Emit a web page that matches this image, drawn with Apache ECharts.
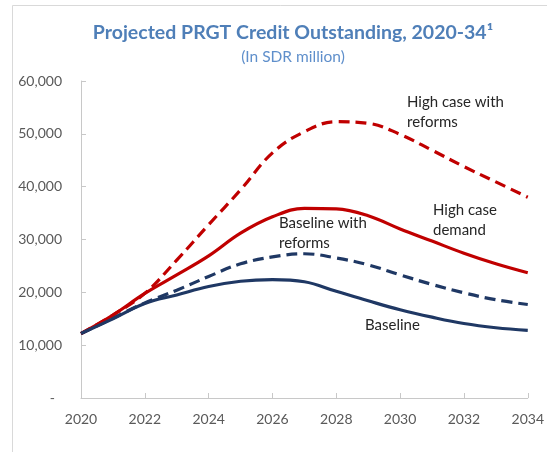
<!DOCTYPE html>
<html>
<head>
<meta charset="utf-8">
<script src="https://cdn.jsdelivr.net/npm/echarts@6/dist/echarts.min.js"></script>
<style>
html,body{margin:0;padding:0;background:#fff;}
#c{width:547px;height:452px;}
</style>
</head>
<body>
<div id="c"></div>
<script>
const years = [2020,2021,2022,2023,2024,2025,2026,2027,2028,2029,2030,2031,2032,2033,2034];
const baseline = [12200,15000,17900,19500,21100,22100,22400,22000,20200,18400,16700,15300,14100,13300,12800];
const baselineReforms = [12200,15100,18000,20400,23000,25400,26700,27300,26500,25200,23300,21500,19900,18600,17700];
const highDemand = [12200,15700,19800,23300,26900,31200,34300,35900,35800,34500,32000,29700,27400,25400,23700];
const highReforms = [12200,15700,19800,26100,32800,39400,46400,50400,52300,52000,49900,46900,43800,40900,38000];
const yTicks = [0,10000,20000,30000,40000,50000,60000];
const titleText = 'Projected PRGT Credit Outstanding, 2020-34\u00B9';
const subtitleText = '(In SDR million)';

const FONT = 'Lato, "Open Sans", sans-serif';
const RED = '#c00000', NAVY = '#1f3864';
const pair = arr => years.map((y,i)=>[y, arr[i]]);

const chart = echarts.init(document.getElementById('c'), null, {renderer:'canvas'});
function mk(name, data, color, dashed){
  return {
    name, type:'line', data: pair(data), smooth: 0.4, symbol:'none',
    lineStyle:{color, width:3.2, type: dashed ? [11,6] : 'solid', cap:'butt'},
    z: dashed ? 3 : 4
  };
}
chart.setOption({
  animation:false,
  backgroundColor:'#fff',
  grid:{left:81, right:19, top:81, bottom:54},
  xAxis:{
    type:'value', min:2020, max:2034, interval:2,
    axisLine:{lineStyle:{color:'#c8c8c8', width:1}},
    axisTick:{inside:true, length:5, lineStyle:{color:'#c8c8c8'}},
    axisLabel:{formatter:v=>String(v), color:'#595959', fontFamily:FONT, fontSize:14, margin:14},
    splitLine:{show:false}
  },
  yAxis:{
    type:'value', min:0, max:60000, interval:10000,
    axisLine:{show:true, lineStyle:{color:'#c8c8c8', width:1}},
    axisTick:{show:true, inside:true, length:5, lineStyle:{color:'#c8c8c8'}},
    axisLabel:{formatter:v=> v===0 ? '-  ' : v.toLocaleString('en-US'), color:'#595959', fontFamily:FONT, fontSize:14, margin:19},
    splitLine:{show:false}
  },
  series:[
    mk('High case with reforms', highReforms, RED, true),
    mk('Baseline with reforms', baselineReforms, NAVY, true),
    mk('High case demand', highDemand, RED, false),
    mk('Baseline', baseline, NAVY, false)
  ],
  graphic:[
    {type:'rect', shape:{x:12.5, y:5.5, width:600, height:600}, style:{fill:'none', stroke:'#d9d9d9', lineWidth:1}, z:-1},
    {type:'text', x:293, y:33, style:{text:titleText, fill:'#4f7fb8', font:'bold 19.5px '+FONT, align:'center', verticalAlign:'middle'}},
    {type:'text', x:293, y:57, style:{text:subtitleText, fill:'#5f8fcb', font:'15.5px '+FONT, align:'center', verticalAlign:'middle'}},
    {type:'text', x:407, y:112, style:{text:'High case with\nreforms', fill:'#262626', font:'15px '+FONT, lineHeight:19.5, align:'left', verticalAlign:'middle'}},
    {type:'text', x:433, y:220, style:{text:'High case\ndemand', fill:'#262626', font:'15px '+FONT, lineHeight:19.5, align:'left', verticalAlign:'middle'}},
    {type:'text', x:279, y:233, style:{text:'Baseline with\nreforms', fill:'#262626', font:'15px '+FONT, lineHeight:19.5, align:'left', verticalAlign:'middle'}},
    {type:'text', x:365, y:325, style:{text:'Baseline', fill:'#262626', font:'15px '+FONT, align:'left', verticalAlign:'middle'}}
  ]
});
</script>
</body>
</html>
